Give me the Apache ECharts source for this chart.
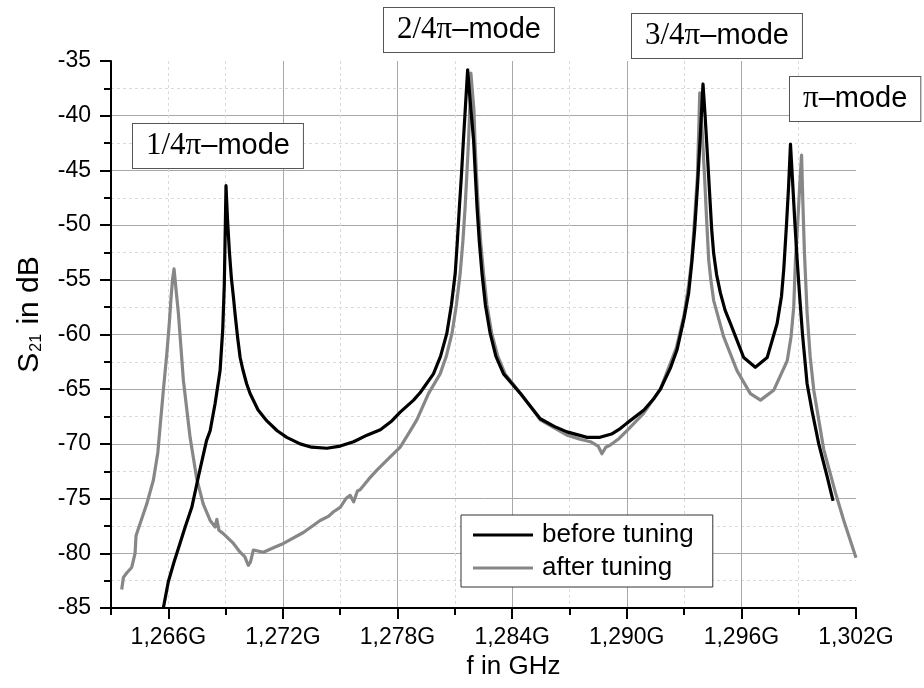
<!DOCTYPE html>
<html>
<head>
<meta charset="utf-8">
<script src="https://cdn.jsdelivr.net/npm/echarts@6/dist/echarts.min.js"></script>
<style>html,body{margin:0;padding:0;background:#fff}#c{width:924px;height:688px}</style>
</head>
<body>
<div id="c"></div>
<script>
const seriesNames = ['before tuning', 'after tuning'];
const majorFreqTicks = [1266, 1272, 1278, 1284, 1290, 1296, 1302];

const beforeFreq = [1265.74,1266.0,1266.3,1266.61,1266.9,1267.23,1267.6,1268.0,1268.19,1268.45,1268.71,1268.85,1268.93,1268.97,1269.0,1269.02,1269.1,1269.2,1269.3,1269.41,1269.5,1269.63,1269.76,1269.9,1270.1,1270.28,1270.7,1271.16,1271.7,1272.2,1272.9,1273.5,1274.3,1275.0,1275.7,1276.4,1277.1,1277.7,1278.14,1278.84,1279.19,1279.88,1280.25,1280.58,1280.82,1281.02,1281.13,1281.24,1281.35,1281.45,1281.56,1281.67,1281.82,1281.98,1282.07,1282.16,1282.28,1282.42,1282.6,1282.85,1283.15,1283.55,1284.43,1285.47,1286.2,1286.87,1287.92,1288.6,1289.2,1289.66,1290.01,1290.9,1291.4,1291.76,1292.3,1292.63,1293.0,1293.24,1293.4,1293.55,1293.7,1293.85,1293.99,1294.1,1294.22,1294.35,1294.45,1294.55,1294.7,1294.9,1295.15,1295.43,1296.12,1296.73,1297.35,1297.87,1298.1,1298.22,1298.36,1298.47,1298.57,1298.68,1298.8,1298.92,1299.05,1299.2,1299.44,1299.7,1300.05,1300.49,1300.8];
const beforeDb = [-85.0,-82.6,-80.8,-79.1,-77.5,-75.8,-72.8,-69.7,-68.8,-66.3,-63.3,-59.5,-55.5,-51.5,-48.5,-46.4,-49.5,-52.5,-54.8,-56.6,-58.2,-60.3,-62.1,-63.2,-64.5,-65.4,-66.9,-67.9,-68.8,-69.4,-70.0,-70.3,-70.4,-70.2,-69.8,-69.2,-68.7,-67.9,-67.1,-66.0,-65.3,-63.6,-62.0,-59.9,-57.3,-54.4,-51.5,-48.3,-45.3,-42.2,-39.0,-35.8,-39.0,-42.2,-45.3,-48.3,-51.5,-54.4,-57.3,-59.9,-62.0,-63.6,-65.4,-67.7,-68.4,-68.9,-69.4,-69.4,-69.1,-68.6,-68.1,-66.9,-65.9,-65.0,-63.0,-61.4,-58.5,-56.2,-53.5,-50.5,-46.5,-41.8,-37.1,-40.0,-43.5,-47.5,-50.5,-52.6,-54.5,-56.2,-57.8,-59.0,-62.1,-63.0,-62.1,-59.0,-56.5,-54.0,-50.0,-46.5,-42.6,-46.0,-49.8,-53.2,-56.5,-60.0,-64.5,-67.0,-70.0,-73.0,-75.2];

const afterFreq = [1263.56,1263.65,1263.82,1264.08,1264.26,1264.31,1264.52,1264.87,1265.22,1265.45,1265.74,1265.92,1266.05,1266.15,1266.22,1266.3,1266.4,1266.53,1266.79,1267.14,1267.49,1267.83,1268.19,1268.45,1268.54,1268.65,1268.88,1269.41,1269.76,1270.0,1270.19,1270.3,1270.45,1270.98,1271.5,1272.03,1273.07,1273.95,1274.4,1274.65,1275.0,1275.3,1275.52,1275.7,1275.9,1276.04,1276.5,1276.92,1277.5,1278.14,1278.6,1279.01,1279.62,1280.23,1280.55,1280.85,1281.08,1281.28,1281.42,1281.54,1281.63,1281.72,1281.79,1281.84,1282.0,1282.05,1282.13,1282.22,1282.35,1282.5,1282.68,1282.93,1283.25,1283.63,1284.5,1285.47,1286.87,1287.6,1288.1,1288.5,1288.7,1288.9,1289.14,1289.6,1290.0,1290.88,1291.76,1292.6,1293.0,1293.24,1293.4,1293.55,1293.7,1293.82,1293.95,1294.07,1294.18,1294.29,1294.4,1294.55,1295.07,1295.77,1296.47,1297.0,1297.69,1298.4,1298.6,1298.74,1298.83,1298.95,1299.05,1299.15,1299.22,1299.3,1299.44,1299.6,1299.79,1300.31,1300.93,1301.36,1302.0];
const afterDb = [-83.3,-82.2,-81.8,-81.3,-80.0,-78.4,-77.3,-75.5,-73.3,-70.8,-65.1,-61.8,-59.0,-56.5,-55.0,-54.0,-55.8,-58.1,-64.2,-69.4,-73.2,-75.5,-77.0,-77.6,-76.9,-77.9,-78.2,-79.1,-79.9,-80.3,-81.1,-80.8,-79.7,-79.9,-79.5,-79.1,-78.1,-77.0,-76.6,-76.2,-75.8,-75.0,-74.7,-75.3,-74.3,-74.2,-73.2,-72.4,-71.4,-70.3,-69.0,-67.8,-65.4,-63.6,-62.0,-59.9,-57.3,-54.4,-51.5,-48.3,-45.3,-42.2,-39.0,-36.1,-39.5,-42.2,-45.3,-48.3,-51.5,-54.4,-57.3,-59.9,-62.0,-63.6,-65.5,-67.8,-69.2,-69.6,-69.8,-70.2,-70.9,-70.3,-70.1,-69.5,-68.8,-67.2,-65.0,-61.2,-58.2,-55.5,-53.2,-49.5,-45.5,-37.9,-41.5,-45.5,-49.5,-53.2,-55.0,-56.9,-60.2,-63.3,-65.4,-66.0,-65.1,-62.4,-60.2,-57.5,-53.2,-49.8,-46.5,-43.6,-48.0,-52.5,-58.0,-62.0,-65.1,-70.5,-74.5,-77.0,-80.4];

const modeLabels = [
  {serif: '1/4π', sans: '–mode', x: 132, y: 123},
  {serif: '2/4π', sans: '–mode', x: 383, y: 7},
  {serif: '3/4π', sans: '–mode', x: 631, y: 13},
  {serif: 'π', sans: '–mode', x: 789, y: 76}
];

const zip = (a, b) => a.map((v, i) => [v, b[i]]);
const FONT = '"Liberation Sans", Arial, sans-serif';
const fmtFreq = v => (v / 1000).toFixed(3).replace('.', ',') + 'G';

const chart = echarts.init(document.getElementById('c'), null, {renderer: 'canvas'});
chart.setOption({
  animation: false,
  backgroundColor: '#fff',
  grid: {left: 111, right: 68, top: 61, bottom: 80, containLabel: false},
  legend: {
    data: seriesNames,
    orient: 'vertical',
    left: 461, top: 515,
    backgroundColor: '#fff',
    borderColor: '#333', borderWidth: 1,
    padding: [7, 19, 6, 12],
    itemGap: 7,
    itemWidth: 60, itemHeight: 3,
    icon: 'rect',
    textStyle: {fontFamily: FONT, fontSize: 26, color: '#000', lineHeight: 26, padding: [0, 0, 0, 4]}
  },
  xAxis: [
    {
      type: 'value', min: 1263, max: 1302, interval: 3,
      axisLine: {show: true, onZero: false, lineStyle: {color: '#000', width: 2}},
      axisTick: {show: true, length: 7, lineStyle: {color: '#000', width: 2}},
      axisLabel: {show: false},
      splitLine: {show: true, showMinLine: false, showMaxLine: false, lineStyle: {color: '#dadada', width: 1, type: [3, 3]}}
    },
    {
      type: 'value', min: 1263, max: 1302, interval: 3, position: 'bottom',
      name: 'f in GHz', nameLocation: 'middle', nameGap: 45,
      nameTextStyle: {fontFamily: FONT, fontSize: 26, color: '#000', padding: [0, 0, 0, 60]},
      axisLine: {show: false, onZero: false},
      axisTick: {show: true, length: 11, customValues: majorFreqTicks, lineStyle: {color: '#000', width: 2}},
      axisLabel: {show: true, customValues: majorFreqTicks, margin: 18, formatter: fmtFreq,
        fontFamily: FONT, fontSize: 23, color: '#000'},
      splitLine: {show: true, showMinLine: false, showMaxLine: false, lineStyle: {color: '#a8a8a8', width: 1}}
    }
  ],
  yAxis: {
    type: 'value', min: -85, max: -35, interval: 5,
    name: '{a|S}{b|21}{a| in dB}', nameLocation: 'middle', nameGap: 66, nameRotate: 90,
    nameTextStyle: {
      padding: [0, 0, 0, 40],
      rich: {
        a: {fontFamily: FONT, fontSize: 30, color: '#000', lineHeight: 34, verticalAlign: 'bottom'},
        b: {fontFamily: FONT, fontSize: 16, color: '#000', lineHeight: 16, verticalAlign: 'bottom', padding: [0, 1, 0, 1]}
      }
    },
    axisLine: {show: true, onZero: false, lineStyle: {color: '#000', width: 2}},
    axisTick: {show: true, length: 11, lineStyle: {color: '#000', width: 2}},
    minorTick: {show: true, splitNumber: 2, length: 7, lineStyle: {color: '#000', width: 2}},
    axisLabel: {margin: 20, fontFamily: FONT, fontSize: 23, color: '#000'},
    splitLine: {show: true, showMinLine: false, showMaxLine: false, lineStyle: {color: '#a8a8a8', width: 1}},
    minorSplitLine: {show: true, lineStyle: {color: '#dadada', width: 1, type: [3, 3]}}
  },
  series: [
    {
      name: seriesNames[1], type: 'line', xAxisIndex: 0, showSymbol: false, symbol: 'none',
      data: zip(afterFreq, afterDb), lineStyle: {color: '#878787', width: 3.2, join: 'round'}, itemStyle: {color: '#878787'},
      z: 3
    },
    {
      name: seriesNames[0], type: 'line', xAxisIndex: 0, showSymbol: false, symbol: 'none',
      data: zip(beforeFreq, beforeDb), lineStyle: {color: '#000', width: 3.2, join: 'round'}, itemStyle: {color: '#000'},
      z: 4
    }
  ],
  graphic: modeLabels.map(m => ({
    type: 'text', left: m.x, top: m.y, z: 100,
    style: {
      text: '{s|' + m.serif + '}{t|' + m.sans + '}',
      rich: {
        s: {fontFamily: '"Liberation Serif", "Times New Roman", serif', fontSize: 31, color: '#000', lineHeight: 34},
        t: {fontFamily: FONT, fontSize: 29, color: '#000', lineHeight: 34}
      },
      backgroundColor: '#fff', borderColor: '#555', borderWidth: 1,
      padding: [5, 13, 5, 13]
    }
  }))
});
</script>
</body>
</html>
